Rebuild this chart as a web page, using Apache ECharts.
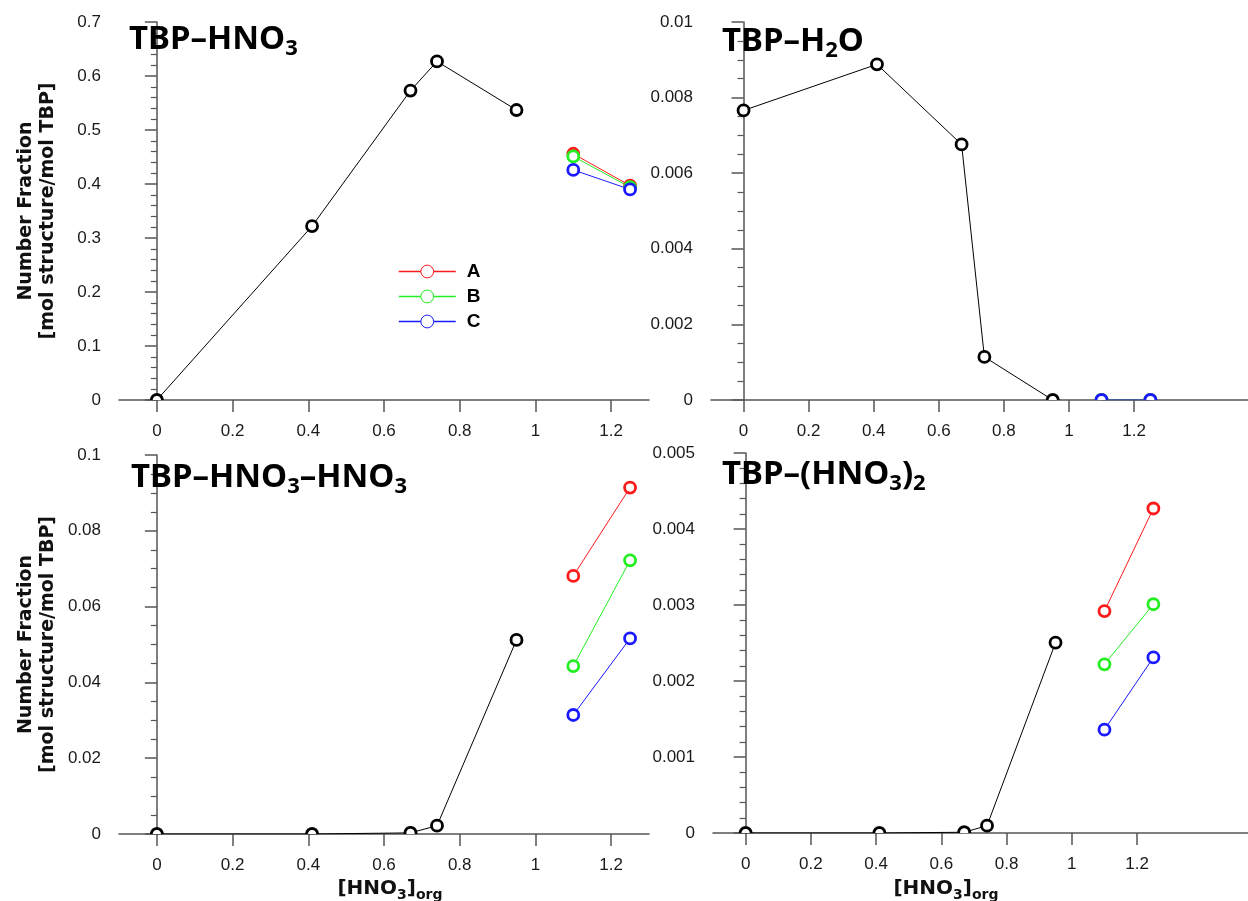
<!DOCTYPE html>
<html><head><meta charset="utf-8">
<script src="https://cdn.jsdelivr.net/npm/echarts@6/dist/echarts.min.js"></script>
<style>html,body{margin:0;padding:0;background:#fff}#c{width:1248px;height:901px}</style>
</head><body><div id="c"></div>
<script>
// ---------- data ----------
const xBase = [0, 0.41, 0.67, 0.74, 0.95];
const xABC = [1.1, 1.25];
const xTickValues = [0, 0.2, 0.4, 0.6, 0.8, 1, 1.2];
const setNames = ['A', 'B', 'C'];

// TBP-HNO3
const hno3Base = [0, 0.322, 0.573, 0.627, 0.537];
const hno3A = [0.456, 0.397];
const hno3B = [0.451, 0.394];
const hno3C = [0.426, 0.390];
// TBP-H2O
const h2oBase = [0.00766, 0.00888, 0.00676, 0.00114, 0];
const h2oA = [0, 0];
const h2oB = [0, 0];
const h2oC = [0, 0];
// TBP-HNO3-HNO3
const dimBase = [0, 0, 0.0003, 0.0022, 0.0512];
const dimA = [0.0681, 0.0914];
const dimB = [0.0443, 0.0722];
const dimC = [0.0314, 0.0516];
// TBP-(HNO3)2
const tbp2Base = [0, 0, 0.00001, 0.000096, 0.002504];
const tbp2A = [0.00292, 0.00427];
const tbp2B = [0.00222, 0.00301];
const tbp2C = [0.00136, 0.00231];

const yMax = [0.7, 0.01, 0.1, 0.005];
const yInterval = [0.1, 0.002, 0.02, 0.001];
const yMinorSplit = [5, 4, 4, 5];
const xMax = [1.3, 1.55, 1.3, 1.54];

// ---------- styling ----------
const colors = {base: '#000000', A: '#ff1a1a', B: '#22ee22', C: '#1a1aff'};
const grids = [
  {left: 119, top: 22, width: 530, height: 378},
  {left: 711, top: 22, width: 537, height: 378},
  {left: 119, top: 455, width: 530, height: 379},
  {left: 713, top: 453, width: 535, height: 380}
];
const panels = [
  {base: hno3Base, sets: [hno3A, hno3B, hno3C]},
  {base: h2oBase, sets: [h2oA, h2oB, h2oC]},
  {base: dimBase, sets: [dimA, dimB, dimC]},
  {base: tbp2Base, sets: [tbp2A, tbp2B, tbp2C]}
];

const axisColor = '#555';
const labelFont = {fontFamily: 'Liberation Sans', fontSize: 17, color: '#1a1a1a'};
const titleRich = {
  a: {fontFamily: 'Noto Sans', fontWeight: 'bold', fontSize: 33, lineHeight: 40, color: '#000'},
  s: {fontFamily: 'Noto Sans', fontWeight: 'bold', fontSize: 22, lineHeight: 26, verticalAlign: 'bottom', color: '#000'}
};
const nameRich = {
  a: {fontFamily: 'DejaVu Sans', fontWeight: 'bold', fontSize: 20, lineHeight: 26, color: '#111'},
  s: {fontFamily: 'DejaVu Sans', fontWeight: 'bold', fontSize: 14, lineHeight: 18, verticalAlign: 'bottom', color: '#111'}
};
const markR = 5.5, markW = 2.8;

const zip = (xs, ys) => xs.map((x, i) => [x, ys[i]]);

const xAxes = grids.map((g, i) => ({
  type: 'value', gridIndex: i, min: -0.1, max: xMax[i],
  splitLine: {show: false},
  axisLine: {show: true, onZero: false, lineStyle: {color: axisColor, width: 1.5}},
  axisTick: {show: true, length: 12, customValues: xTickValues, lineStyle: {color: axisColor, width: 1.5}},
  axisLabel: Object.assign({margin: 23, customValues: xTickValues}, labelFont)
}));

const yAxes = grids.map((g, i) => ({
  type: 'value', gridIndex: i, min: 0, max: yMax[i], interval: yInterval[i],
  splitLine: {show: false},
  axisLine: {show: true, lineStyle: {color: axisColor, width: 1.5}},
  axisTick: {show: true, length: 12, lineStyle: {color: axisColor, width: 1.5}},
  minorTick: {show: true, splitNumber: yMinorSplit[i], length: 6, lineStyle: {color: axisColor, width: 1.2}},
  minorSplitLine: {show: false},
  axisLabel: Object.assign({margin: 18, showMinLabel: true, showMaxLabel: true}, labelFont),
  name: (i % 2 === 0) ? 'Number Fraction\n[mol structure/mol TBP]' : '',
  nameLocation: 'middle', nameGap: 60,
  nameTextStyle: {fontFamily: 'DejaVu Sans', fontWeight: 'bold', fontSize: 19, lineHeight: 22, color: '#111'}
}));

const series = [];
function addSet(i, name, xs, ys, color) {
  series.push({
    type: 'line', name: name, xAxisIndex: i, yAxisIndex: i, data: zip(xs, ys),
    symbol: 'circle', showSymbol: false, lineStyle: {color: color, width: 1},
    itemStyle: {color: color}, z: 2, silent: true, animation: false
  });
}
function arcPoints(cx, cy, r, s, e, n) {
  const pts = [];
  for (let k = 0; k <= n; k++) {
    const t = s + (e - s) * k / n;
    pts.push([cx + r * Math.cos(t), cy + r * Math.sin(t)]);
  }
  return pts;
}
function addMarks(i, name, xs, ys, color) {
  series.push({
    type: 'custom', name: name + ' marks', xAxisIndex: i, yAxisIndex: i, data: zip(xs, ys),
    encode: {x: 0, y: 1}, z: 3, silent: true, animation: false,
    renderItem: (params, api) => {
      const p = api.coord([api.value(0), api.value(1)]);
      const bottom = api.coord([api.value(0), 0])[1];   // pixel row of the x axis
      const d = bottom - p[1];
      if (d >= markR) {
        return {type: 'circle', shape: {cx: p[0], cy: p[1], r: markR},
                style: {fill: '#fff', stroke: color, lineWidth: markW}};
      }
      // clipped at the axis: keep only the part of the ring above the axis
      const a = Math.asin(Math.max(-1, Math.min(1, d / markR)));
      const pts = arcPoints(p[0], p[1], markR, Math.PI - a, 2 * Math.PI + a, 28);
      return {type: 'group', children: [
        {type: 'polygon', shape: {points: pts}, style: {fill: '#fff', stroke: null}},
        {type: 'polyline', shape: {points: pts}, style: {stroke: color, lineWidth: markW, fill: null}}
      ]};
    }
  });
}
panels.forEach((p, i) => {
  setNames.forEach((n, k) => addSet(i, n, xABC, p.sets[k], colors[n]));
  addSet(i, 'base', xBase, p.base, colors.base);
});
panels.forEach((p, i) => {
  addMarks(i, 'base', xBase, p.base, colors.base);
  setNames.forEach((n, k) => addMarks(i, n, xABC, p.sets[k], colors[n]));
});

const titles = [
  {text: '{a|TBP–HNO}{s|3}', left: 129, top: 20},
  {text: '{a|TBP–H}{s|2}{a|O}', left: 722, top: 22},
  {text: '{a|TBP–HNO}{s|3}{a|–HNO}{s|3}', left: 131, top: 458},
  {text: '{a|TBP–(HNO}{s|3}{a|)}{s|2}', left: 722, top: 455}
].map(t => Object.assign(t, {padding: 0, textStyle: {rich: titleRich}}));
const xNames = [
  {text: '{a|[HNO}{s|3}{a|]}{s|org}', left: 390, top: 876},
  {text: '{a|[HNO}{s|3}{a|]}{s|org}', left: 946, top: 876}
].map(t => Object.assign(t, {padding: 0, textAlign: 'center', textStyle: {rich: nameRich}}));

const chart = echarts.init(document.getElementById('c'), null, {renderer: 'canvas'});
chart.setOption({
  backgroundColor: '#fff',
  animation: false,
  title: titles.concat(xNames),
  grid: grids,
  xAxis: xAxes,
  yAxis: yAxes,
  legend: {
    orient: 'vertical', left: 398, top: 262, padding: 0,
    itemWidth: 57, itemHeight: 16, itemGap: 6, selectedMode: false,
    data: setNames.map(n => ({name: n, itemStyle: {color: '#fff', borderColor: colors[n], borderWidth: 1},
                              lineStyle: {color: colors[n], width: 1.5}})),
    textStyle: {fontFamily: 'Liberation Sans', fontWeight: 'bold', fontSize: 19, color: '#000', padding: [0, 0, 0, 6]}
  },
  series: series
});
</script></body></html>
